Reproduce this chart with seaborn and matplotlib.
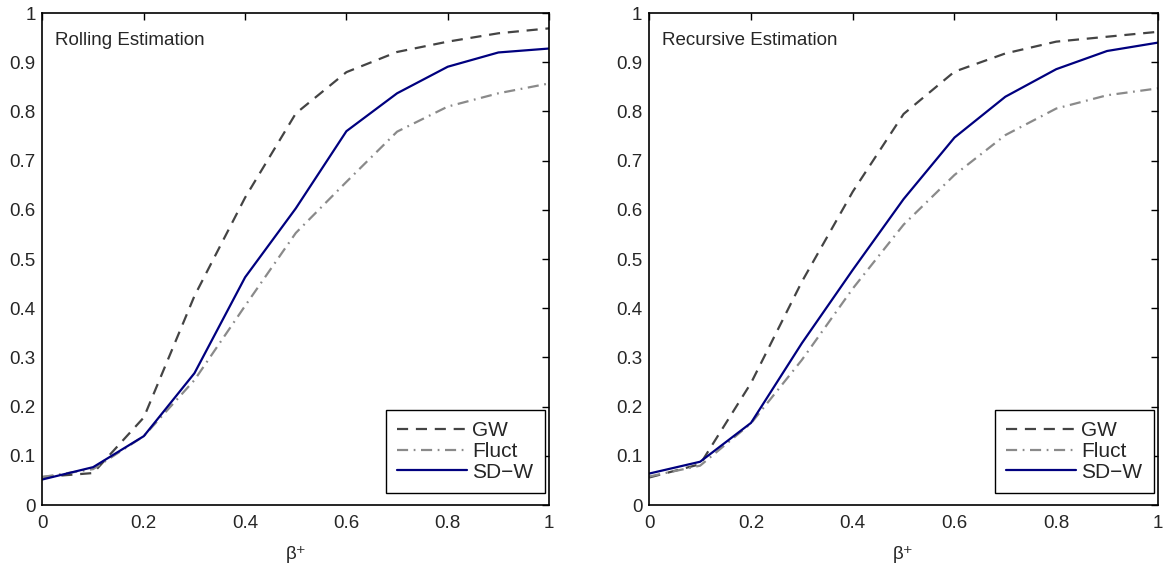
import numpy as np
import pandas as pd
import matplotlib
matplotlib.use('Agg')
import matplotlib.pyplot as plt
import seaborn as sns

# --- data ---
beta = [0, 0.1, 0.2, 0.3, 0.4, 0.5, 0.6, 0.7, 0.8, 0.9, 1.0]

roll_gw = [0.057, 0.065, 0.178, 0.425, 0.625, 0.796, 0.880, 0.921, 0.942, 0.959, 0.969]
roll_fluct = [0.057, 0.073, 0.140, 0.254, 0.405, 0.553, 0.657, 0.759, 0.810, 0.837, 0.857]
roll_sdw = [0.052, 0.077, 0.140, 0.268, 0.463, 0.603, 0.760, 0.837, 0.891, 0.920, 0.928]

rec_gw = [0.056, 0.083, 0.248, 0.454, 0.637, 0.795, 0.881, 0.918, 0.942, 0.952, 0.962]
rec_fluct = [0.058, 0.080, 0.166, 0.295, 0.440, 0.570, 0.671, 0.752, 0.806, 0.833, 0.847]
rec_sdw = [0.064, 0.088, 0.167, 0.329, 0.478, 0.622, 0.747, 0.830, 0.886, 0.923, 0.940]

panels = [
    ('Rolling Estimation', roll_gw, roll_fluct, roll_sdw),
    ('Recursive Estimation', rec_gw, rec_fluct, rec_sdw),
]

styles = {
    'GW': dict(color='#444444', ls=(0, (5, 3.5))),
    'Fluct': dict(color='#8a8a8a', ls=(0, (5, 2.5, 0.8, 2.5))),
    'SD\u2212W': dict(color='#00007f', ls='-'),
}

FS = 13.5

sns.set_style('white')
plt.rcParams['font.family'] = ['Liberation Sans', 'DejaVu Sans']
plt.rcParams['font.size'] = FS

fig = plt.figure(figsize=(11.64, 5.70), dpi=100)
axes = [fig.add_axes([0.0365, 0.114, 0.4352, 0.863]),
        fig.add_axes([0.5578, 0.114, 0.4370, 0.863])]

for ax, (title, gw, fl, sd) in zip(axes, panels):
    df = pd.DataFrame({'beta': beta, 'GW': gw, 'Fluct': fl, 'SD\u2212W': sd})
    for name in ['GW', 'Fluct', 'SD\u2212W']:
        st = styles[name]
        sns.lineplot(data=df, x='beta', y=name, ax=ax, color=st['color'],
                     linestyle=st['ls'], linewidth=1.6, label=name)

    ax.set_xlim(0, 1)
    ax.set_ylim(0, 1)
    ax.set_xticks(np.arange(0, 1.01, 0.2))
    ax.set_xticklabels(['0', '0.2', '0.4', '0.6', '0.8', '1'])
    ax.set_yticks(np.arange(0, 1.01, 0.1))
    ax.set_yticklabels(['0', '0.1', '0.2', '0.3', '0.4', '0.5', '0.6', '0.7', '0.8', '0.9', '1'])
    ax.tick_params(direction='in', length=5, width=1, top=True, right=True,
                   labelsize=FS, pad=5, color='black')
    ax.tick_params(axis='x', pad=7)
    for sp in ax.spines.values():
        sp.set_visible(True)
        sp.set_color('black')
        sp.set_linewidth(1.2)
    ax.set_xlabel('\u03b2\u207a', fontsize=FS, labelpad=10)
    ax.set_ylabel('')
    ax.text(0.025, 0.945, title, transform=ax.transAxes, fontsize=FS,
            va='center', ha='left')
    leg = ax.legend(loc='lower right', bbox_to_anchor=(0.992, 0.024),
                    fontsize=15, frameon=True, fancybox=False,
                    edgecolor='black', framealpha=1, handlelength=3.35,
                    handletextpad=0.25, labelspacing=0.08, borderpad=0.55,
                    borderaxespad=0)
    leg.get_frame().set_linewidth(1.0)

fig.savefig('out.png', dpi=100)
